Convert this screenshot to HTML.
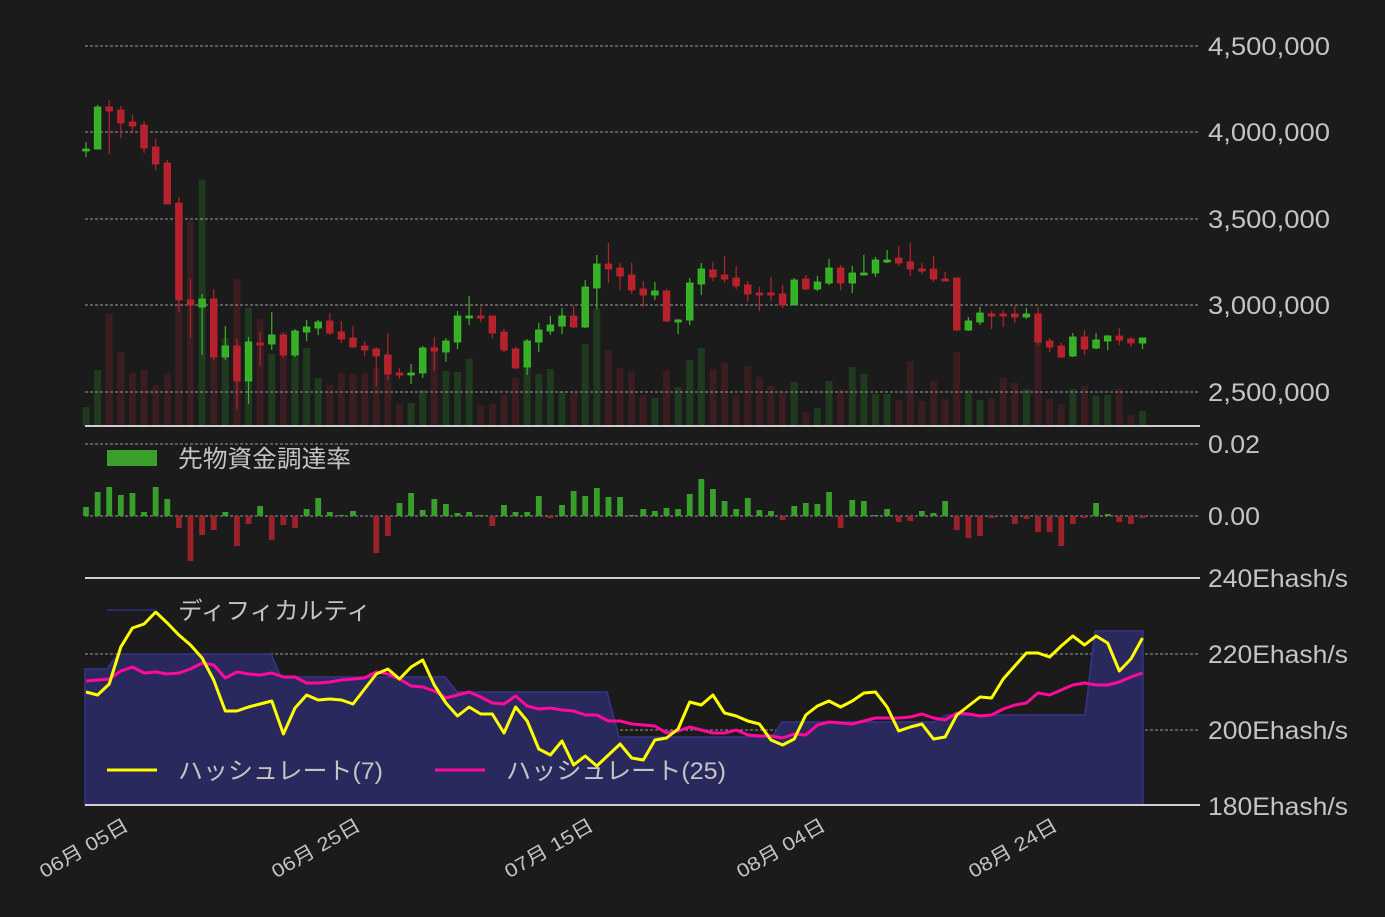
<!DOCTYPE html>
<html><head><meta charset="utf-8">
<style>
html,body{margin:0;padding:0;background:#1b1b1b;}
svg{display:block;}
text{font-family:"Liberation Sans","Noto Sans CJK JP",sans-serif;fill:#c4c4c4;}
</style></head>
<body>
<svg id="s" width="1385" height="917" xmlns="http://www.w3.org/2000/svg">
<rect width="1385" height="917" fill="#1b1b1b"/>
<g id="g"></g>
<g font-size="25">
<text x="1208" y="55" textLength="122" lengthAdjust="spacingAndGlyphs">4,500,000</text>
<text x="1208" y="141" textLength="122" lengthAdjust="spacingAndGlyphs">4,000,000</text>
<text x="1208" y="228" textLength="122" lengthAdjust="spacingAndGlyphs">3,500,000</text>
<text x="1208" y="314" textLength="122" lengthAdjust="spacingAndGlyphs">3,000,000</text>
<text x="1208" y="401" textLength="122" lengthAdjust="spacingAndGlyphs">2,500,000</text>
<text x="1208" y="453" textLength="52" lengthAdjust="spacingAndGlyphs">0.02</text>
<text x="1208" y="525" textLength="52" lengthAdjust="spacingAndGlyphs">0.00</text>
<text x="1208" y="587" textLength="140" lengthAdjust="spacingAndGlyphs">240Ehash/s</text>
<text x="1208" y="663" textLength="140" lengthAdjust="spacingAndGlyphs">220Ehash/s</text>
<text x="1208" y="739" textLength="140" lengthAdjust="spacingAndGlyphs">200Ehash/s</text>
<text x="1208" y="815" textLength="140" lengthAdjust="spacingAndGlyphs">180Ehash/s</text>
</g>
<rect x="107" y="450" width="50" height="16" fill="#3aa02c"/>
<text x="178" y="467" font-size="24" textLength="173" lengthAdjust="spacingAndGlyphs">先物資金調達率</text>
<line x1="107" y1="610" x2="157" y2="610" stroke="#2a2a6a" stroke-width="2"/>
<text x="178" y="619" font-size="24" textLength="193" lengthAdjust="spacingAndGlyphs">ディフィカルティ</text>
<line x1="107" y1="770" x2="157" y2="770" stroke="#ffff00" stroke-width="3"/>
<text x="178" y="779" font-size="24" textLength="205" lengthAdjust="spacingAndGlyphs">ハッシュレート(7)</text>
<line x1="435" y1="770" x2="485" y2="770" stroke="#ff0a9c" stroke-width="3"/>
<text x="506" y="779" font-size="24" textLength="220" lengthAdjust="spacingAndGlyphs">ハッシュレート(25)</text>
<g font-size="19">
<text transform="translate(130,829) rotate(-30)" text-anchor="end" textLength="99" lengthAdjust="spacingAndGlyphs">06月 05日</text>
<text transform="translate(362,829) rotate(-30)" text-anchor="end" textLength="99" lengthAdjust="spacingAndGlyphs">06月 25日</text>
<text transform="translate(595,829) rotate(-30)" text-anchor="end" textLength="99" lengthAdjust="spacingAndGlyphs">07月 15日</text>
<text transform="translate(827,829) rotate(-30)" text-anchor="end" textLength="99" lengthAdjust="spacingAndGlyphs">08月 04日</text>
<text transform="translate(1059,829) rotate(-30)" text-anchor="end" textLength="99" lengthAdjust="spacingAndGlyphs">08月 24日</text>
</g>
</svg>
<script>
var NS="http://www.w3.org/2000/svg",g=document.getElementById("g");
function el(t,a){var e=document.createElementNS(NS,t);for(var k in a)e.setAttribute(k,a[k]);g.appendChild(e);return e;}
function X(i){return 86+i*11.61;}
var C=[[149,149,142,157],[149,107,105,149],[107,111,100,154],[110,123,106,138],[122,126,115,132],[125,148,121,153],[147,164,139,170],[163,204,160,204],[203,300,197,312],[300,305,279,338],[307,299,294,355],[299,357,289,360],[357,346,326,360],[346,381,339,409],[381,342,337,404],[343,343,332,366],[344,335,312,350],[335,355,333,358],[355,331,329,357],[332,327,320,341],[328,322,320,335],[321,333,313,335],[332,339,321,343],[338,347,326,348],[346,350,341,356],[349,356,347,386],[355,374,333,380],[373,373,368,379],[373,373,364,384],[373,348,346,378],[348,351,337,371],[352,341,338,362],[342,316,311,349],[316,316,296,325],[316,316,307,322],[316,333,316,338],[332,350,329,352],[349,368,347,369],[367,341,339,375],[342,330,323,352],[331,325,316,335],[326,316,308,334],[316,327,306,328],[327,287,280,328],[288,264,255,309],[264,269,243,283],[268,276,263,290],[275,290,263,294],[289,295,281,307],[295,291,282,300],[291,321,289,322],[320,320,319,334],[320,283,278,325],[284,269,263,295],[270,277,262,281],[275,279,256,282],[278,286,266,289],[285,294,281,302],[293,293,287,311],[293,293,277,301],[294,305,285,308],[305,280,278,305],[279,289,275,290],[289,282,276,291],[283,268,259,285],[268,283,265,290],[283,273,266,293],[273,273,255,275],[273,260,257,277],[260,260,250,263],[258,263,246,266],[262,269,243,276],[269,269,263,274],[269,279,256,282],[279,279,272,281],[278,330,278,331],[330,321,317,331],[322,313,307,325],[314,314,311,329],[314,314,310,327],[314,317,306,323],[317,314,308,319],[314,342,307,345],[341,347,338,352],[346,357,343,358],[356,337,333,357],[337,349,330,355],[348,340,333,349],[341,336,335,350],[336,340,328,345],[339,343,337,347],[343,338,338,349]];
var greenDoji={0:1,28:1,33:1,51:1,67:1,69:1};
var V=[407,370,314,352,373,370,385,373,303,221,180,323,338,279,308,319,354,332,348,348,378,385,373,374,373,368,357,404,403,390,346,371,372,359,405,404,395,378,367,374,369,391,391,344,309,350,368,371,395,398,370,387,360,348,369,363,395,366,377,386,392,382,412,408,381,390,367,374,394,394,400,361,401,381,399,352,390,400,398,378,383,389,333,399,404,389,386,396,395,389,415,411];
var F=[9,24,29,21,23,4,29,17,-12,-45,-19,-14,4,-30,-8,10,-24,-9,-12,7,18,4,1,5,0,-37,-20,13,23,6,17,12,3,4,1,-10,11,4,4,20,-2,11,25,20,28,19,19,1,7,5,8,7,22,37,27,15,7,18,6,5,-4,10,13,12,24,-12,16,15,1,7,-6,-5,5,3,15,-14,-22,-20,-2,0,-8,-3,-16,-16,-30,-8,-2,13,2,-6,-8,-2];
var Y=[692,695,684,647,628,624,612,623,635,645,658,680,711,711,707,704,701,734,708,695,700,699,700,704,689,674,669,679,667,660,685,703,716,707,714,714,733,707,721,749,755,741,765,756,766,755,744,758,760,740,738,729,702,705,695,713,716,721,724,740,745,739,715,706,701,707,701,693,692,707,731,727,724,739,737,715,706,697,698,679,666,653,653,657,646,636,645,636,643,671,659,638];
var P=[681,680,679,671,667,673,672,674,673,669,663,665,678,672,674,675,673,677,677,683,683,682,680,679,678,672,674,679,686,687,691,698,695,692,697,703,704,696,706,709,708,710,711,715,715,721,721,724,725,726,733,731,727,730,733,733,730,735,736,736,738,734,735,725,722,723,724,721,718,718,718,717,714,718,720,713,714,716,715,709,705,703,693,695,690,685,683,685,685,682,677,673];
function isUp(i){var c=C[i];return c[1]<c[0]||(c[1]==c[0]&&greenDoji[i]);}
for(var i=0;i<92;i++){el("rect",{x:X(i)-3.5,y:V[i],width:7,height:426-V[i],fill:isUp(i)?"#1f3a1f":"#3a1d20"});}
[46,132,219,305,392,444,516,654,730].forEach(function(y){el("line",{x1:85,x2:1200,y1:y,y2:y,stroke:"#9a9a9a","stroke-width":1,"stroke-dasharray":"3,2"});});
for(var i=0;i<92;i++){var c=C[i],up=isUp(i),col=up?"#3cc02a":"#c2232f",x=X(i);
el("line",{x1:x,x2:x,y1:c[2],y2:c[3],stroke:up?"#3cb02a":"#b8222d","stroke-width":1.2});
var t=Math.min(c[0],c[1]),h=Math.max(Math.abs(c[1]-c[0]),2);
el("rect",{x:x-3.3,y:t,width:6.6,height:h,fill:up?"#36b026":"#b5212c",stroke:col,"stroke-width":0.8});}
for(var i=0;i<92;i++){var v=F[i];if(v==0)continue;var x=X(i);
el("rect",{x:x-2.9,y:v>0?516-v:516,width:5.8,height:Math.abs(v),fill:v>0?"#38a02a":"#9b222b"});}
var d="M85,805 L85,669 L107,669 L118,654 L271,654 L281,677 L445,677 L457,692 L607,692 L619,737 L772,737 L782,722 L934,722 L946,715 L1085,715 L1095,631 L1143,631 L1143,805 Z";
el("path",{d:d,fill:"#29295e",stroke:"#35358a","stroke-width":1.5});
function pl(a,col){var s="";for(var i=0;i<a.length;i++)s+=X(i).toFixed(1)+","+a[i]+" ";el("polyline",{points:s,fill:"none",stroke:col,"stroke-width":3,"stroke-linejoin":"round"});}
pl(P,"#ff0a9c");pl(Y,"#ffff00");
[[426,1200],[578,1200],[805,1200]].forEach(function(a){el("line",{x1:85,x2:a[1],y1:a[0],y2:a[0],stroke:"#d0d0d0","stroke-width":2});});
</script>
</body></html>
